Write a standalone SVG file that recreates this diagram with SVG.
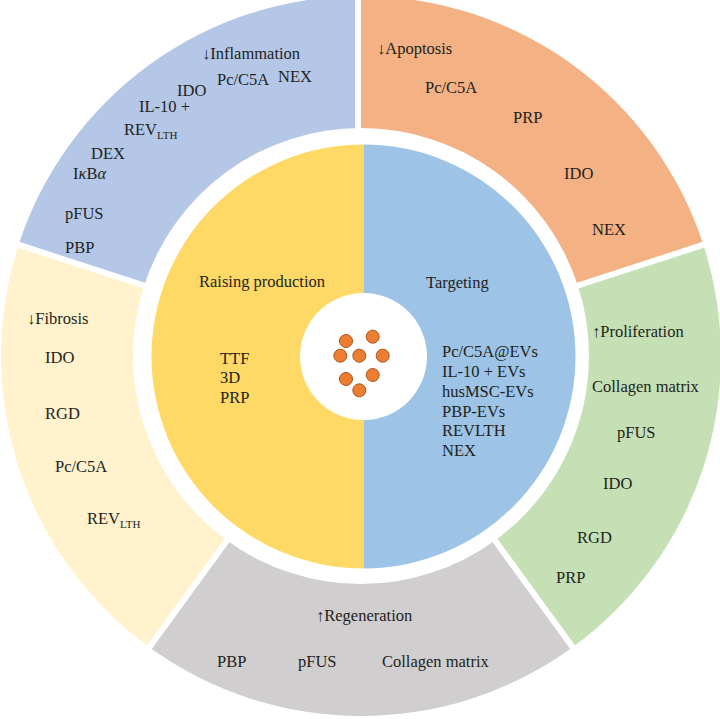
<svg xmlns="http://www.w3.org/2000/svg" width="720" height="719" viewBox="0 0 720 719">
<style>
text{font-family:"Liberation Serif","Times New Roman",serif;font-size:16.5px;fill:#231F20}
.sub{font-size:11px}
.it{font-style:italic}
.sep{stroke:#FFFFFF;stroke-width:6;fill:none}
.dot{fill:#ED7D31;stroke:#A9561E;stroke-width:1}
</style>
<rect width="720" height="719" fill="#FFFFFF"/>
<g id="inflammation">
<path d="M18.62,244.75 A360,360 0 0 1 361,-4 L361,128 A228,228 0 0 0 144.16,285.54 Z" fill="#B4C7E7"/>
<text x="202" y="58.5">↓Inflammation</text>
<text x="217" y="85">Pc/C5A</text>
<text x="278" y="82">NEX</text>
<text x="177" y="96">IDO</text>
<text x="139" y="112">IL-10 +</text>
<text x="124" y="135">REV<tspan class="sub" dy="4">LTH</tspan></text>
<text x="91" y="159">DEX</text>
<text x="73" y="179">I<tspan class="it">κ</tspan>B<tspan class="it">α</tspan></text>
<text x="65" y="219">pFUS</text>
<text x="65" y="253">PBP</text>
</g>
<g id="apoptosis">
<path d="M361,-4 A360,360 0 0 1 703.38,244.75 L577.84,285.54 A228,228 0 0 0 361,128 Z" fill="#F4B183"/>
<text x="377" y="54">↓Apoptosis</text>
<text x="425" y="93">Pc/C5A</text>
<text x="513" y="123">PRP</text>
<text x="564" y="179">IDO</text>
<text x="592" y="235">NEX</text>
</g>
<g id="proliferation">
<path d="M703.38,244.75 A360,360 0 0 1 572.6,647.25 L495.01,540.46 A228,228 0 0 0 577.84,285.54 Z" fill="#C5E0B4"/>
<text x="592" y="337">↑Proliferation</text>
<text x="592" y="392">Collagen matrix</text>
<text x="617" y="438">pFUS</text>
<text x="603" y="489">IDO</text>
<text x="577" y="543">RGD</text>
<text x="556" y="583">PRP</text>
</g>
<g id="regeneration">
<path d="M572.6,647.25 A360,360 0 0 1 149.4,647.25 L226.99,540.46 A228,228 0 0 0 495.01,540.46 Z" fill="#D0CECE"/>
<text x="316" y="621">↑Regeneration</text>
<text x="217" y="667">PBP</text>
<text x="298" y="667">pFUS</text>
<text x="382" y="667">Collagen matrix</text>
</g>
<g id="fibrosis">
<path d="M149.4,647.25 A360,360 0 0 1 18.62,244.75 L144.16,285.54 A228,228 0 0 0 226.99,540.46 Z" fill="#FFF2CC"/>
<text x="27" y="324">↓Fibrosis</text>
<text x="45" y="363">IDO</text>
<text x="45" y="419">RGD</text>
<text x="55" y="472">Pc/C5A</text>
<text x="87" y="524">REV<tspan class="sub" dy="4">LTH</tspan></text>
</g>
<g id="separators">
<line class="sep" x1="358" y1="136" x2="358" y2="-14"/>
<line class="sep" x1="570.2" y1="288" x2="712.9" y2="241.7"/>
<line class="sep" x1="490.3" y1="534" x2="578.5" y2="655.3"/>
<line class="sep" x1="231.7" y1="534" x2="143.5" y2="655.3"/>
<line class="sep" x1="151.8" y1="288" x2="9.1" y2="241.7"/>
</g>
<g id="raising-production">
<path d="M363.5,144.5 A212,212 0 0 0 363.5,568.5 Z" fill="#FFD966"/>
<text x="199" y="287">Raising production</text>
<text x="220" y="364">TTF</text>
<text x="220" y="383">3D</text>
<text x="220" y="403">PRP</text>
</g>
<g id="targeting">
<path d="M363.5,144.5 A212,212 0 0 1 363.5,568.5 Z" fill="#9DC3E6"/>
<text x="426" y="288">Targeting</text>
<text x="442" y="357">Pc/C5A@EVs</text>
<text x="442" y="377">IL-10 + EVs</text>
<text x="442" y="397">husMSC-EVs</text>
<text x="442" y="417">PBP-EVs</text>
<text x="442" y="436">REVLTH</text>
<text x="442" y="456">NEX</text>
</g>
<g id="center">
<circle cx="363.5" cy="356.5" r="63.5" fill="#FFFFFF"/>
<circle class="dot" cx="346" cy="341" r="6.5"/>
<circle class="dot" cx="372.7" cy="336.7" r="6.5"/>
<circle class="dot" cx="340.3" cy="355.7" r="6.5"/>
<circle class="dot" cx="359.3" cy="355.7" r="6.5"/>
<circle class="dot" cx="382.7" cy="355.7" r="6.5"/>
<circle class="dot" cx="346" cy="379" r="6.5"/>
<circle class="dot" cx="372.7" cy="375" r="6.5"/>
<circle class="dot" cx="359.3" cy="390.3" r="6.5"/>
</g>
</svg>
